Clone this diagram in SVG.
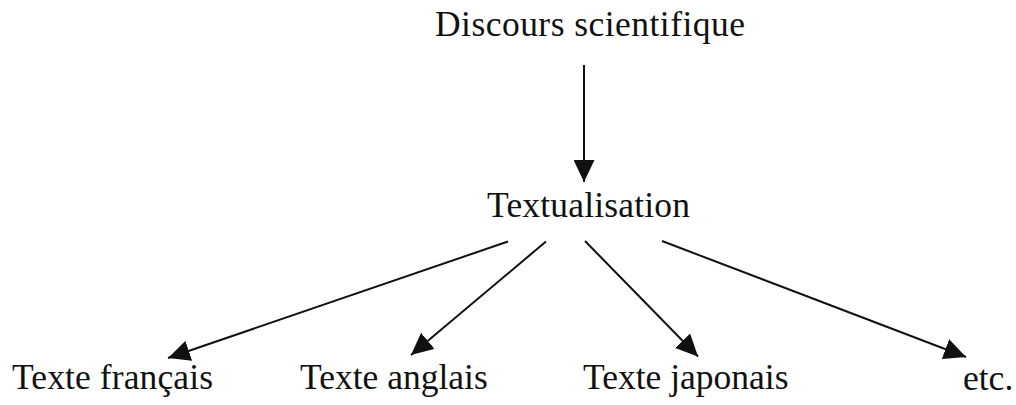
<svg xmlns="http://www.w3.org/2000/svg" width="1016" height="405" viewBox="0 0 1016 405">
  <style>
    .lbl { font-family: "Liberation Serif", "Times New Roman", serif; font-size: 35.5px; fill: #111; }
    .edge { stroke: #111; stroke-width: 2; fill: none; }
  </style>
  <defs>
    <marker id="arrow" viewBox="0 0 22 21" refX="22" refY="10.5" markerWidth="22" markerHeight="21" markerUnits="userSpaceOnUse" orient="auto">
      <path d="M0,0 L22,10.5 L0,21 z" fill="#111"/>
    </marker>
  </defs>
  <rect width="1016" height="405" fill="#ffffff"/>
  <g id="connectors">
    <path class="edge" d="M584,65 L584,182" marker-end="url(#arrow)"/>
    <path class="edge" d="M508,241.5 L168,358" marker-end="url(#arrow)"/>
    <path class="edge" d="M546,241.5 L411,355" marker-end="url(#arrow)"/>
    <path class="edge" d="M585,241 L698,356.5" marker-end="url(#arrow)"/>
    <path class="edge" d="M662,241 L966,357" marker-end="url(#arrow)"/>
  </g>
  <g id="node-discours"><text class="lbl" x="435" y="36" textLength="310">Discours scientifique</text></g>
  <g id="node-textualisation"><text class="lbl" x="487" y="217" textLength="203">Textualisation</text></g>
  <g id="node-francais"><text class="lbl" x="12" y="389" textLength="201">Texte français</text></g>
  <g id="node-anglais"><text class="lbl" x="300" y="389">Texte anglais</text></g>
  <g id="node-japonais"><text class="lbl" x="583" y="389">Texte japonais</text></g>
  <g id="node-etc"><text class="lbl" x="963" y="390">etc.</text></g>
</svg>
